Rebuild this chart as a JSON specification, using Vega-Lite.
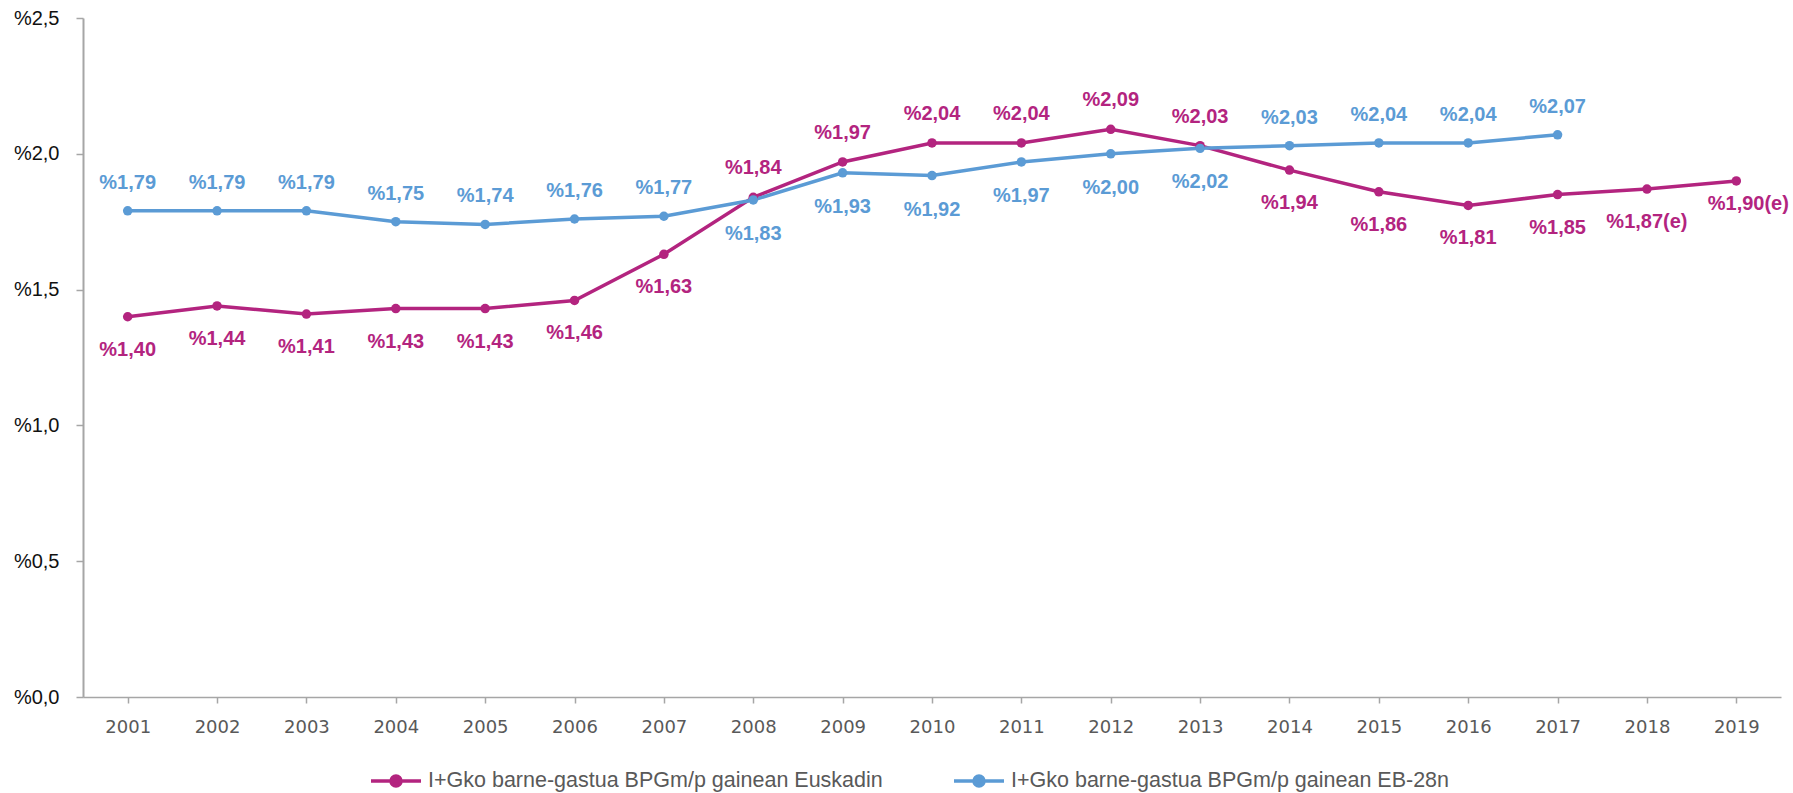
{
  "$schema": "https://vega.github.io/schema/vega-lite/v6.json",
  "width": 1698,
  "height": 679,
  "autosize": {"type": "none"},
  "padding": {"left": 83, "top": 18, "right": 12, "bottom": 96},
  "background": "#ffffff",
  "config": {"view": {"stroke": null}},
  "data": {
    "values": [
      {"year": 2001, "series": "I+Gko barne-gastua BPGm/p gainean Euskadin", "value": 1.40},
      {"year": 2002, "series": "I+Gko barne-gastua BPGm/p gainean Euskadin", "value": 1.44},
      {"year": 2003, "series": "I+Gko barne-gastua BPGm/p gainean Euskadin", "value": 1.41},
      {"year": 2004, "series": "I+Gko barne-gastua BPGm/p gainean Euskadin", "value": 1.43},
      {"year": 2005, "series": "I+Gko barne-gastua BPGm/p gainean Euskadin", "value": 1.43},
      {"year": 2006, "series": "I+Gko barne-gastua BPGm/p gainean Euskadin", "value": 1.46},
      {"year": 2007, "series": "I+Gko barne-gastua BPGm/p gainean Euskadin", "value": 1.63},
      {"year": 2008, "series": "I+Gko barne-gastua BPGm/p gainean Euskadin", "value": 1.84},
      {"year": 2009, "series": "I+Gko barne-gastua BPGm/p gainean Euskadin", "value": 1.97},
      {"year": 2010, "series": "I+Gko barne-gastua BPGm/p gainean Euskadin", "value": 2.04},
      {"year": 2011, "series": "I+Gko barne-gastua BPGm/p gainean Euskadin", "value": 2.04},
      {"year": 2012, "series": "I+Gko barne-gastua BPGm/p gainean Euskadin", "value": 2.09},
      {"year": 2013, "series": "I+Gko barne-gastua BPGm/p gainean Euskadin", "value": 2.03},
      {"year": 2014, "series": "I+Gko barne-gastua BPGm/p gainean Euskadin", "value": 1.94},
      {"year": 2015, "series": "I+Gko barne-gastua BPGm/p gainean Euskadin", "value": 1.86},
      {"year": 2016, "series": "I+Gko barne-gastua BPGm/p gainean Euskadin", "value": 1.81},
      {"year": 2017, "series": "I+Gko barne-gastua BPGm/p gainean Euskadin", "value": 1.85},
      {"year": 2018, "series": "I+Gko barne-gastua BPGm/p gainean Euskadin", "value": 1.87, "estimated": true},
      {"year": 2019, "series": "I+Gko barne-gastua BPGm/p gainean Euskadin", "value": 1.90, "estimated": true},
      {"year": 2001, "series": "I+Gko barne-gastua BPGm/p gainean EB-28n", "value": 1.79},
      {"year": 2002, "series": "I+Gko barne-gastua BPGm/p gainean EB-28n", "value": 1.79},
      {"year": 2003, "series": "I+Gko barne-gastua BPGm/p gainean EB-28n", "value": 1.79},
      {"year": 2004, "series": "I+Gko barne-gastua BPGm/p gainean EB-28n", "value": 1.75},
      {"year": 2005, "series": "I+Gko barne-gastua BPGm/p gainean EB-28n", "value": 1.74},
      {"year": 2006, "series": "I+Gko barne-gastua BPGm/p gainean EB-28n", "value": 1.76},
      {"year": 2007, "series": "I+Gko barne-gastua BPGm/p gainean EB-28n", "value": 1.77},
      {"year": 2008, "series": "I+Gko barne-gastua BPGm/p gainean EB-28n", "value": 1.83},
      {"year": 2009, "series": "I+Gko barne-gastua BPGm/p gainean EB-28n", "value": 1.93},
      {"year": 2010, "series": "I+Gko barne-gastua BPGm/p gainean EB-28n", "value": 1.92},
      {"year": 2011, "series": "I+Gko barne-gastua BPGm/p gainean EB-28n", "value": 1.97},
      {"year": 2012, "series": "I+Gko barne-gastua BPGm/p gainean EB-28n", "value": 2.00},
      {"year": 2013, "series": "I+Gko barne-gastua BPGm/p gainean EB-28n", "value": 2.02},
      {"year": 2014, "series": "I+Gko barne-gastua BPGm/p gainean EB-28n", "value": 2.03},
      {"year": 2015, "series": "I+Gko barne-gastua BPGm/p gainean EB-28n", "value": 2.04},
      {"year": 2016, "series": "I+Gko barne-gastua BPGm/p gainean EB-28n", "value": 2.04},
      {"year": 2017, "series": "I+Gko barne-gastua BPGm/p gainean EB-28n", "value": 2.07}
    ]
  },
  "transform": [
    {"calculate": "'%' + replace(format(datum.value, '.2f'), '.', ',') + (datum.estimated ? '(e)' : '')", "as": "label"}
  ],
  "encoding": {
    "x": {
      "field": "year",
      "type": "ordinal",
      "scale": {"type": "point", "padding": 0.5},
      "axis": {
        "title": null,
        "labelAngle": 0,
        "labelFont": "DejaVu Sans",
        "labelFontSize": 18,
        "labelColor": "#595959",
        "labelPadding": 15,
        "tickSize": 6,
        "tickColor": "#A6A6A6",
        "tickWidth": 1.5,
        "domainColor": "#A6A6A6",
        "domainWidth": 1.5,
        "grid": false
      }
    },
    "y": {
      "field": "value",
      "type": "quantitative",
      "scale": {"domain": [0, 2.5], "nice": false, "zero": true},
      "axis": {
        "title": null,
        "values": [0, 0.5, 1, 1.5, 2, 2.5],
        "labelExpr": "'%' + replace(format(datum.value, '.1f'), '.', ',')",
        "labelFont": "Liberation Sans",
        "labelFontSize": 20,
        "labelColor": "#111111",
        "labelPadding": 17,
        "tickSize": 7,
        "tickColor": "#A6A6A6",
        "tickWidth": 1.5,
        "domainColor": "#A6A6A6",
        "domainWidth": 2,
        "grid": false
      }
    }
  },
  "layer": [
    {
      "mark": {"type": "line", "strokeWidth": 3.5, "point": {"filled": true, "size": 90}},
      "encoding": {
        "color": {
          "field": "series",
          "type": "nominal",
          "sort": ["I+Gko barne-gastua BPGm/p gainean Euskadin", "I+Gko barne-gastua BPGm/p gainean EB-28n"],
          "scale": {
            "domain": ["I+Gko barne-gastua BPGm/p gainean Euskadin", "I+Gko barne-gastua BPGm/p gainean EB-28n"],
            "range": ["#B3247F", "#5B9BD5"]
          },
          "legend": {
            "title": null,
            "orient": "none",
            "direction": "horizontal",
            "legendX": 286,
            "legendY": 736,
            "padding": 0,
            "symbolType": "M-1,0L1,0M0.2,0A0.2,0.2,0,1,1,-0.2,0A0.2,0.2,0,1,1,0.2,0Z",
            "symbolSize": 2500,
            "symbolStrokeWidth": 3.5,
            "labelFont": "Liberation Sans",
            "labelFontSize": 21.5,
            "labelColor": "#595959",
            "labelOffset": 5,
            "labelLimit": 600,
            "columnPadding": 64,
            "encode": {
              "symbols": {
                "update": {
                  "fill": {"scale": "color", "field": "value"},
                  "stroke": {"scale": "color", "field": "value"},
                  "fillOpacity": {"value": 1}
                }
              }
            }
          }
        }
      }
    },
    {
      "transform": [{"filter": "datum.series == 'I+Gko barne-gastua BPGm/p gainean Euskadin' && (datum.year < 2008 || datum.year > 2013) && datum.year != 2019"}],
      "mark": {"type": "text", "font": "Liberation Sans", "fontWeight": "bold", "fontSize": 20, "color": "#B3247F", "dy": 33},
      "encoding": {"text": {"field": "label"}}
    },
    {
      "transform": [{"filter": "datum.series == 'I+Gko barne-gastua BPGm/p gainean Euskadin' && datum.year >= 2008 && datum.year <= 2013"}],
      "mark": {"type": "text", "font": "Liberation Sans", "fontWeight": "bold", "fontSize": 20, "color": "#B3247F", "dy": -29},
      "encoding": {"text": {"field": "label"}}
    },
    {
      "transform": [{"filter": "datum.series == 'I+Gko barne-gastua BPGm/p gainean Euskadin' && datum.year == 2019"}],
      "mark": {"type": "text", "font": "Liberation Sans", "fontWeight": "bold", "fontSize": 20, "color": "#B3247F", "dy": 23, "dx": 12},
      "encoding": {"text": {"field": "label"}}
    },
    {
      "transform": [{"filter": "datum.series == 'I+Gko barne-gastua BPGm/p gainean EB-28n' && (datum.year < 2008 || datum.year > 2013)"}],
      "mark": {"type": "text", "font": "Liberation Sans", "fontWeight": "bold", "fontSize": 20, "color": "#5B9BD5", "dy": -28},
      "encoding": {"text": {"field": "label"}}
    },
    {
      "transform": [{"filter": "datum.series == 'I+Gko barne-gastua BPGm/p gainean EB-28n' && datum.year >= 2008 && datum.year <= 2013"}],
      "mark": {"type": "text", "font": "Liberation Sans", "fontWeight": "bold", "fontSize": 20, "color": "#5B9BD5", "dy": 34},
      "encoding": {"text": {"field": "label"}}
    }
  ]
}
